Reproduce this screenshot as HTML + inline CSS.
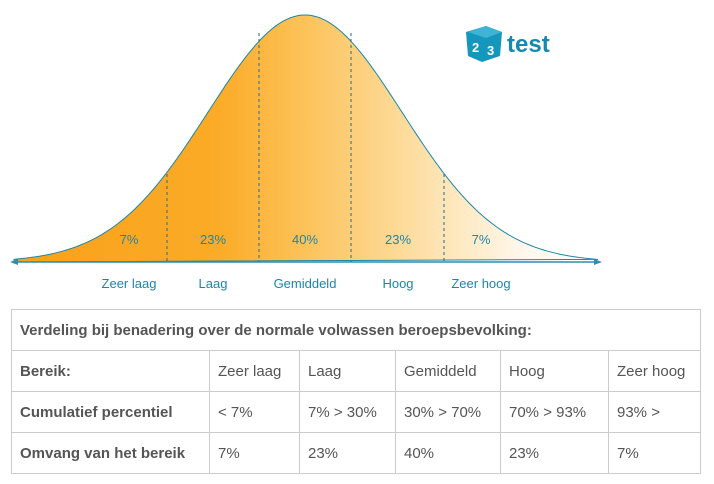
<!DOCTYPE html>
<html><head><meta charset="utf-8"><style>
body{margin:0;width:714px;height:484px;background:#fff;overflow:hidden;font-family:"Liberation Sans",Arial,sans-serif}
svg{position:absolute;left:0;top:0}
table{position:absolute;left:11px;top:309px;width:689px;border-collapse:collapse;color:#555;font-size:15px;table-layout:fixed}
td{border:1px solid #ccc;padding:0 8px;height:40px;white-space:nowrap;overflow:hidden}
td.b{font-weight:bold}
</style></head><body>
<svg width="714" height="300" viewBox="0 0 714 300">
<defs>
<linearGradient id="g" x1="0" x2="1" y1="0" y2="0" gradientUnits="objectBoundingBox">
<stop offset="0" stop-color="#f9a11b"/>
<stop offset="0.35" stop-color="#fbab27"/>
<stop offset="0.5" stop-color="#fcc35a"/>
<stop offset="0.7" stop-color="#fde0a8"/>
<stop offset="0.86" stop-color="#fff6e8"/>
<stop offset="1" stop-color="#ffffff"/>
</linearGradient>
</defs>
<path id="c" d="" fill="url(#g)" stroke="#1b86a8" stroke-width="1"/>
<line x1="14" y1="262" x2="598" y2="262" stroke="#2a8fb2" stroke-width="1.5"/>
<polygon points="10,262 18,259 18,265" fill="#2a8fb2"/>
<polygon points="602,262 594,259 594,265" fill="#2a8fb2"/>
<g stroke="#1b6f8f" stroke-dasharray="3,3" stroke-width="1">
<line x1="167" y1="174" x2="167" y2="262"/>
<line x1="259" y1="33" x2="259" y2="262"/>
<line x1="351" y1="33" x2="351" y2="262"/>
<line x1="444" y1="174" x2="444" y2="262"/>
</g>
<g fill="#1a86ad" font-size="13" text-anchor="middle">
<text x="129" y="244">7%</text><text x="213" y="244">23%</text><text x="305" y="244">40%</text><text x="398" y="244">23%</text><text x="481" y="244">7%</text>
<text x="129" y="288">Zeer laag</text><text x="213" y="288">Laag</text><text x="305" y="288">Gemiddeld</text><text x="398" y="288">Hoog</text><text x="481" y="288">Zeer hoog</text>
</g>
<g>
<polygon points="466,32 486,26 502,32 500,56 482,62 468,56" fill="#1596bd"/>
<polygon points="486,26 502,32 486,38 468,32" fill="#3fb3d6"/>
<text x="472" y="52" fill="#fff" font-size="13" font-weight="bold">2</text>
<text x="487" y="55" fill="#fff" font-size="13" font-weight="bold">3</text>
<text x="507" y="52" fill="#1689b0" font-size="24" font-weight="bold">test</text>
</g>
</svg>
<script>
var d="M14,262";
for(var x=14;x<=598;x+=2){var z=(x-305)/97;var y=262-247*Math.exp(-z*z/2);d+=" L"+x+","+y.toFixed(1);}
document.getElementById("c").setAttribute("d",d+" Z");
</script>
<table>
<colgroup><col style="width:198px"><col style="width:90px"><col style="width:96px"><col style="width:105px"><col style="width:108px"><col style="width:92px"></colgroup>
<tr><td class="b" colspan="6">Verdeling bij benadering over de normale volwassen beroepsbevolking:</td></tr>
<tr><td class="b">Bereik:</td><td>Zeer laag</td><td>Laag</td><td>Gemiddeld</td><td>Hoog</td><td>Zeer hoog</td></tr>
<tr><td class="b">Cumulatief percentiel</td><td>&lt; 7%</td><td>7% &gt; 30%</td><td>30% &gt; 70%</td><td>70% &gt; 93%</td><td>93% &gt;</td></tr>
<tr><td class="b">Omvang van het bereik</td><td>7%</td><td>23%</td><td>40%</td><td>23%</td><td>7%</td></tr>
</table>
</body></html>
